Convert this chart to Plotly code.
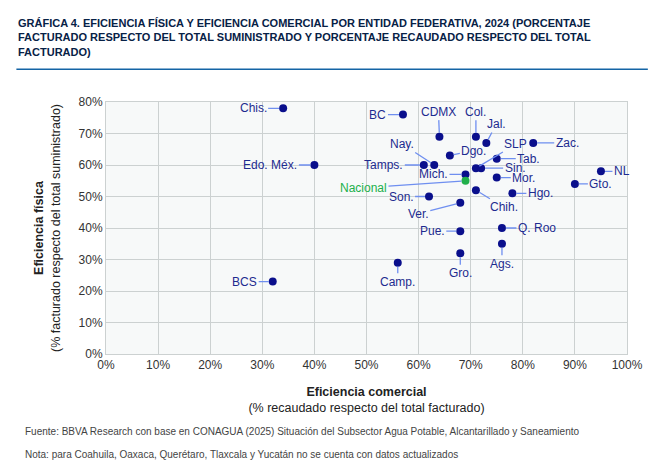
import plotly.graph_objects as go

estados = ["Chis.", "BC", "CDMX", "Col.", "Jal.", "Zac.", "Dgo.", "Nay.", "Tamps.", "Edo. Méx.",
           "SLP", "Sin.", "Tab.", "Mich.", "Mor.", "NL", "Gto.", "Hgo.", "Chih.", "Son.",
           "Ver.", "Pue.", "Q. Roo", "Ags.", "Gro.", "Camp.", "BCS"]
comercial = [34, 57, 64, 71, 73, 82, 66, 63, 61, 40,
             71, 72, 75, 69, 75, 95, 90, 78, 71, 62,
             68, 68, 76, 76, 68, 56, 32]
fisica = [78, 76, 69, 69, 67, 67, 63, 60, 60, 60,
          59, 59, 62, 57, 56, 58, 54, 51, 52, 50,
          48, 39, 40, 35, 32, 29, 23]
nac_x, nac_y = [69], [55]

# label offsets in px (text centre relative to point)
offs = {"Chis.": (-30, 0), "BC": (-25, 0), "CDMX": (-1, -25), "Col.": (0, -25), "Jal.": (10, -19),
        "Zac.": (34, 0), "Dgo.": (24, -5), "Nay.": (-32, -21), "Tamps.": (-40, 0), "Edo. Méx.": (-44, 0),
        "SLP": (40, -24), "Sin.": (34, 0), "Tab.": (32, 0), "Mich.": (-32, 0), "Mor.": (27, 0),
        "NL": (21, 0), "Gto.": (26, 0), "Hgo.": (28, 0), "Chih.": (28, 17), "Son.": (-28, 0),
        "Ver.": (-42, 11), "Pue.": (-28, 0), "Q. Roo": (35, 0), "Ags.": (0, 20), "Gro.": (0, 20),
        "Camp.": (0, 19), "BCS": (-28, 0)}

navy = "#0a0f8c"
lead = "#6f8ff0"

fig = go.Figure()
fig.add_trace(go.Scatter(x=comercial, y=fisica, mode="markers",
                         marker=dict(color=navy, size=8), hoverinfo="text", text=estados))
fig.add_trace(go.Scatter(x=nac_x, y=nac_y, mode="markers",
                         marker=dict(color="#21b04b", size=8)))

ann = []
for e, x, y in zip(estados, comercial, fisica):
    dx, dy = offs[e]
    ann.append(dict(x=x, y=y, text=e, ax=dx, ay=dy, showarrow=True, arrowhead=0,
                    arrowwidth=1.3, arrowcolor=lead, standoff=4,
                    font=dict(size=12, color="#1d2b8f")))
ann.append(dict(x=nac_x[0], y=nac_y[0], text="Nacional", ax=-102, ay=7, showarrow=True,
                arrowhead=0, arrowwidth=1.3, arrowcolor=lead, standoff=4,
                font=dict(size=12, color="#21b04b")))

ann.append(dict(xref="paper", yref="paper", x=-0.172, y=1.345, xanchor="left", yanchor="top",
                showarrow=False, align="left",
                text="<b>GRÁFICA 4. EFICIENCIA FÍSICA Y EFICIENCIA COMERCIAL POR ENTIDAD FEDERATIVA, 2024 (PORCENTAJE<br>"
                     "FACTURADO RESPECTO DEL TOTAL SUMINISTRADO Y PORCENTAJE RECAUDADO RESPECTO DEL TOTAL<br>FACTURADO)</b>",
                font=dict(size=11, color="#072146")))
ann.append(dict(xref="paper", yref="paper", x=-0.16, y=-0.337, xanchor="left", showarrow=False,
                text="Fuente: BBVA Research con base en CONAGUA (2025) Situación del Subsector Agua Potable, Alcantarillado y Saneamiento",
                font=dict(size=10, color="#444")))
ann.append(dict(xref="paper", yref="paper", x=-0.16, y=-0.43, xanchor="left", showarrow=False,
                text="Nota: para Coahuila, Oaxaca, Querétaro, Tlaxcala y Yucatán no se cuenta con datos actualizados",
                font=dict(size=10, color="#444")))

fig.update_layout(
    width=671, height=474, showlegend=False,
    margin=dict(l=98, r=52, t=94, b=128),
    paper_bgcolor="white", plot_bgcolor="#f7f9f9",
    font=dict(family="Liberation Sans, Arial", size=12, color="#333"),
    annotations=ann,
    shapes=[dict(type="line", xref="paper", yref="paper", x0=-0.172, x1=1.04, y0=1.13, y1=1.13,
                 line=dict(color="#1464a5", width=1.5))],
    xaxis=dict(range=[0, 100], dtick=10, ticksuffix="%", gridcolor="#ccd1d1", zeroline=False,
               showline=True, linecolor="#ccd1d1", mirror=True,
               title=dict(text="<b>Eficiencia comercial</b><br>(% recaudado respecto del total facturado)",
                          font=dict(size=12.5, color="#222"))),
    yaxis=dict(range=[0, 80], dtick=10, ticksuffix="%", gridcolor="#ccd1d1", zeroline=False,
               showline=True, linecolor="#ccd1d1", mirror=True,
               title=dict(text="<b>Eficiencia física</b><br>(% facturado respecto del total suministrado)",
                          font=dict(size=12.5, color="#222"))),
)
fig.write_html("out.html")
